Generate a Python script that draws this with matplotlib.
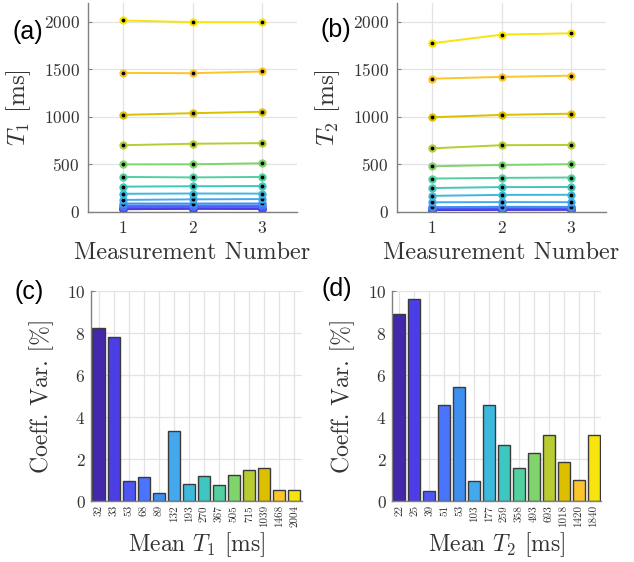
import numpy as np
import matplotlib.pyplot as plt

plt.rcParams['font.family'] = 'serif'
plt.rcParams['font.serif'] = ['cmr10']
plt.rcParams['mathtext.fontset'] = 'cm'
plt.rcParams['axes.formatter.use_mathtext'] = True

# repeated measurements (ms), one row per phantom vial
meas = [1, 2, 3]
t1_vals = [
    [29.0, 34.5, 32.5],
    [30.5, 35.5, 33.0],
    [52.5, 53.0, 53.5],
    [67.2, 68.2, 68.8],
    [88.7, 89.0, 89.4],
    [127, 133, 136],
    [191.5, 194.5, 193.5],
    [267, 271, 273],
    [369, 364, 369],
    [501, 502, 513],
    [703, 718, 725],
    [1022, 1040, 1055],
    [1464, 1461, 1479],
    [2016, 1998, 1998],
]
t2_vals = [
    [20.0, 22.5, 23.5],
    [22.5, 25.5, 27.0],
    [38.8, 39.0, 39.2],
    [48.5, 52.5, 52.0],
    [50, 55, 54],
    [102, 104, 103],
    [170, 180, 181],
    [252, 262, 263],
    [352, 359, 363],
    [481, 495, 503],
    [670, 703, 706],
    [997, 1022, 1035],
    [1403, 1422, 1435],
    [1775, 1867, 1881],
]

# coefficient of variation (%) per vial
t1_labels = ['32', '33', '53', '68', '89', '132', '193', '270', '367', '505', '715', '1039', '1468', '2004']
t1_cv = [8.26, 7.80, 0.94, 1.16, 0.38, 3.34, 0.82, 1.17, 0.75, 1.22, 1.47, 1.59, 0.54, 0.54]
t2_labels = ['22', '25', '39', '51', '53', '103', '177', '259', '358', '493', '693', '1018', '1420', '1840']
t2_cv = [8.92, 9.60, 0.49, 4.55, 5.45, 0.97, 4.55, 2.69, 1.59, 2.28, 3.12, 1.87, 1.00, 3.15]

# parula-ish colours, low to high
cols = ['#4327ad', '#4b3ee6', '#4f56f8', '#4a74fb', '#3f8ff0', '#43a8ee', '#3cb9dc',
        '#3ec6c0', '#52d0a0', '#80d46c', '#b8cc32', '#dcc000', '#fcc52c', '#f6e40c']

axcol = '#808080'
txtcol = '#333333'


def style(ax):
    for s in ['top', 'right']:
        ax.spines[s].set_visible(False)
    for s in ['left', 'bottom']:
        ax.spines[s].set_color(axcol)
        ax.spines[s].set_linewidth(1.0)
    ax.grid(True, color='#e3e3e3', linewidth=0.9)
    ax.set_axisbelow(True)
    ax.tick_params(direction='in', length=3, color=axcol, labelcolor=txtcol)


def line_panel(ax, vals, ylab):
    for v, c in zip(vals, cols):
        ax.plot(meas, v, '-o', color=c, lw=1.4, ms=5, mfc=c, mec=c)
        ax.plot(meas, v, '.', color='k', ms=3.5)
    ax.set_xlim(0.5, 3.5)
    ax.set_ylim(0, 2200)
    ax.set_xticks(meas)
    ax.set_yticks([0, 500, 1000, 1500, 2000])
    style(ax)
    ax.tick_params(labelsize=12.5, pad=6)
    ax.set_xlabel('Measurement Number', fontsize=17.5, color=txtcol, labelpad=4)
    ax.set_ylabel(ylab, fontsize=18, color=txtcol, labelpad=8)


def bar_panel(ax, labels, cv, xlab):
    pos = np.arange(1, len(cv) + 1)
    ax.bar(pos, cv, width=0.8, color=cols, edgecolor='#3a3a3a', linewidth=1.0)
    ax.set_xlim(0.5, len(cv) + 0.5)
    ax.set_ylim(0, 10)
    ax.set_xticks(pos)
    ax.set_xticklabels(labels, rotation=90)
    ax.set_yticks([0, 2, 4, 6, 8, 10])
    style(ax)
    ax.tick_params(axis='x', labelsize=8, pad=3)
    ax.tick_params(axis='y', labelsize=12.5, pad=4)
    ax.set_xlabel(xlab, fontsize=17, color=txtcol, labelpad=2)
    ax.set_ylabel('Coeff. Var. [%]', fontsize=17, color=txtcol, labelpad=9)


fig = plt.figure(figsize=(6.34, 5.62), dpi=100)

ax_a = fig.add_axes([0.1388, 0.6228, 0.3297, 0.3719])
ax_b = fig.add_axes([0.6262, 0.6228, 0.3297, 0.3719])
ax_c = fig.add_axes([0.1435, 0.1085, 0.3328, 0.3737])
ax_d = fig.add_axes([0.6183, 0.1085, 0.3297, 0.3737])

line_panel(ax_a, t1_vals, r'$T_1$ [ms]')
line_panel(ax_b, t2_vals, r'$T_2$ [ms]')
bar_panel(ax_c, t1_labels, t1_cv, r'Mean $T_1$ [ms]')
bar_panel(ax_d, t2_labels, t2_cv, r'Mean $T_2$ [ms]')

lab_font = dict(fontsize=18, family='Liberation Sans', color='k', va='center', ha='left')
fig.text(12 / 634, 1 - 32 / 562, '(a)', **lab_font)
fig.text(321 / 634, 1 - 30 / 562, '(b)', **lab_font)
fig.text(14 / 634, 1 - 292 / 562, '(c)', **lab_font)
fig.text(322 / 634, 1 - 289 / 562, '(d)', **lab_font)

fig.savefig('out.png', dpi=100)
